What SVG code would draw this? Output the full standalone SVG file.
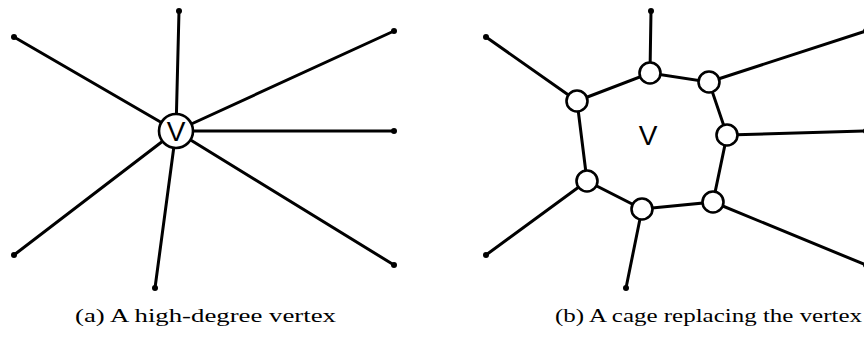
<svg xmlns="http://www.w3.org/2000/svg" width="864" height="338" viewBox="0 0 864 338">
<style>
.e{stroke:#000;stroke-width:3;fill:none;stroke-linecap:round}
.d{fill:#000}
.n{fill:#fff;stroke:#000;stroke-width:2.6}
.v{font-family:"Liberation Sans",Arial,sans-serif;font-size:28px;fill:#000;text-anchor:middle}
.cap{font-family:"Liberation Serif","Times New Roman",serif;font-size:19px;fill:#000}
</style>
<rect width="864" height="338" fill="#fff"/>
<g id="connectors">
<g id="left-edges">
<line class="e" x1="176" y1="131" x2="14" y2="37"/>
<line class="e" x1="176" y1="131" x2="179" y2="11"/>
<line class="e" x1="176" y1="131" x2="394" y2="31"/>
<line class="e" x1="176" y1="131" x2="394" y2="131"/>
<line class="e" x1="176" y1="131" x2="394" y2="265"/>
<line class="e" x1="176" y1="131" x2="155" y2="288"/>
<line class="e" x1="176" y1="131" x2="14" y2="255"/>
</g>
<g id="right-edges">
<line class="e" x1="577" y1="101" x2="486" y2="37"/>
<line class="e" x1="650" y1="73" x2="651" y2="11"/>
<line class="e" x1="709" y1="82" x2="866" y2="31"/>
<line class="e" x1="727" y1="135" x2="866" y2="131"/>
<line class="e" x1="713" y1="202" x2="866" y2="265"/>
<line class="e" x1="642" y1="209" x2="626" y2="288"/>
<line class="e" x1="587" y1="181" x2="486" y2="255"/>
<polygon class="e" points="577,101 650,73 709,82 727,135 713,202 642,209 587,181"/>
</g>
<g id="endpoints">
<circle class="d" cx="14" cy="37" r="3"/>
<circle class="d" cx="179" cy="11" r="3"/>
<circle class="d" cx="394" cy="31" r="3"/>
<circle class="d" cx="394" cy="131" r="3"/>
<circle class="d" cx="394" cy="265" r="3"/>
<circle class="d" cx="155" cy="288" r="3"/>
<circle class="d" cx="14" cy="255" r="3"/>
<circle class="d" cx="486" cy="37" r="3"/>
<circle class="d" cx="651" cy="11" r="3"/>
<circle class="d" cx="866" cy="31" r="3"/>
<circle class="d" cx="866" cy="131" r="3"/>
<circle class="d" cx="866" cy="265" r="3"/>
<circle class="d" cx="626" cy="288" r="3"/>
<circle class="d" cx="486" cy="255" r="3"/>
</g>
</g>
<g id="vertex-v">
<circle class="n" cx="176" cy="131" r="17"/>
<text class="v" x="176" y="141">V</text>
</g>
<g id="cage-label">
<text class="v" x="648" y="145">V</text>
</g>
<g id="cage-1"><circle class="n" cx="577" cy="101" r="10.5"/></g>
<g id="cage-2"><circle class="n" cx="650" cy="73" r="10.5"/></g>
<g id="cage-3"><circle class="n" cx="709" cy="82" r="10.5"/></g>
<g id="cage-4"><circle class="n" cx="727" cy="135" r="10.5"/></g>
<g id="cage-5"><circle class="n" cx="713" cy="202" r="10.5"/></g>
<g id="cage-6"><circle class="n" cx="642" cy="209" r="10.5"/></g>
<g id="cage-7"><circle class="n" cx="587" cy="181" r="10.5"/></g>
<g id="captions">
<text class="cap" x="75" y="322" textLength="261" lengthAdjust="spacingAndGlyphs">(a) A high-degree vertex</text>
<text class="cap" x="555" y="322" textLength="307" lengthAdjust="spacingAndGlyphs">(b) A cage replacing the vertex</text>
</g>
</svg>
